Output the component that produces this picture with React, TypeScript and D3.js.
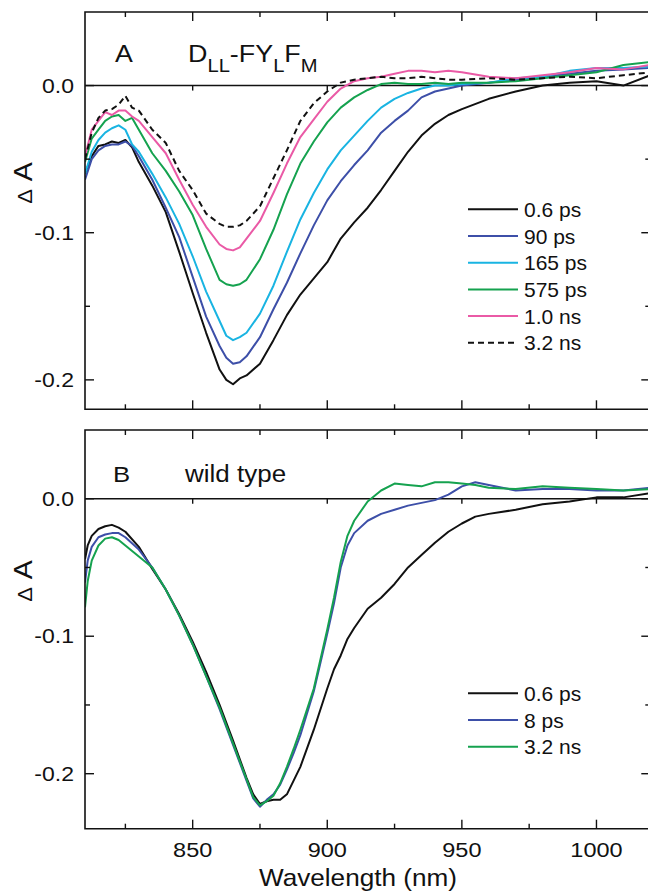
import React from "react";
import * as d3 from "d3";

// ---------------- data ----------------
const wavelengthA = [810, 812.5, 815, 817.5, 820, 822.5, 825, 827.5, 830, 835, 840, 845, 850, 855, 860, 862.5, 865, 867.5, 870, 875, 880, 885, 890, 895, 900, 905, 910, 915, 920, 925, 930, 935, 940, 945, 950, 960, 970, 980, 990, 1000, 1010, 1020];

const a_06ps = [-0.060, -0.048, -0.041, -0.040, -0.038, -0.039, -0.037, -0.042, -0.052, -0.068, -0.086, -0.113, -0.141, -0.168, -0.193, -0.200, -0.203, -0.199, -0.197, -0.189, -0.173, -0.156, -0.142, -0.131, -0.120, -0.104, -0.093, -0.083, -0.071, -0.058, -0.045, -0.034, -0.026, -0.020, -0.016, -0.009, -0.004, 0.000, 0.002, 0.003, 0.000, 0.007];
const a_90ps = [-0.064, -0.050, -0.044, -0.041, -0.040, -0.040, -0.038, -0.041, -0.048, -0.064, -0.083, -0.103, -0.130, -0.157, -0.177, -0.185, -0.189, -0.188, -0.184, -0.171, -0.152, -0.134, -0.114, -0.095, -0.078, -0.065, -0.054, -0.044, -0.032, -0.024, -0.017, -0.008, -0.004, -0.002, 0.000, 0.002, 0.004, 0.006, 0.008, 0.010, 0.011, 0.012];
const a_165ps = [-0.060, -0.045, -0.037, -0.032, -0.029, -0.027, -0.030, -0.040, -0.045, -0.060, -0.076, -0.094, -0.116, -0.140, -0.160, -0.170, -0.173, -0.171, -0.168, -0.155, -0.136, -0.113, -0.091, -0.073, -0.057, -0.044, -0.034, -0.024, -0.015, -0.009, -0.005, -0.002, 0.000, 0.000, 0.001, 0.002, 0.005, 0.006, 0.010, 0.012, 0.012, 0.013];
const a_575ps = [-0.052, -0.036, -0.030, -0.024, -0.021, -0.020, -0.024, -0.022, -0.030, -0.046, -0.058, -0.072, -0.088, -0.111, -0.132, -0.135, -0.136, -0.135, -0.132, -0.118, -0.098, -0.074, -0.053, -0.038, -0.025, -0.015, -0.008, -0.003, 0.001, 0.002, 0.001, 0.001, 0.002, 0.001, 0.002, 0.002, 0.003, 0.005, 0.007, 0.009, 0.014, 0.016];
const a_10ns = [-0.048, -0.030, -0.024, -0.018, -0.020, -0.017, -0.017, -0.021, -0.024, -0.035, -0.046, -0.064, -0.081, -0.096, -0.108, -0.111, -0.112, -0.110, -0.104, -0.092, -0.073, -0.053, -0.035, -0.023, -0.011, -0.002, 0.003, 0.005, 0.006, 0.008, 0.010, 0.010, 0.009, 0.010, 0.009, 0.006, 0.005, 0.007, 0.009, 0.012, 0.011, 0.014];
const a_32ns = [-0.050, -0.032, -0.022, -0.017, -0.016, -0.013, -0.007, -0.015, -0.017, -0.030, -0.039, -0.058, -0.071, -0.087, -0.094, -0.096, -0.096, -0.095, -0.092, -0.082, -0.063, -0.044, -0.024, -0.012, -0.004, 0.002, 0.004, 0.005, 0.006, 0.005, 0.005, 0.006, 0.005, 0.004, 0.004, 0.005, 0.004, 0.005, 0.006, 0.005, 0.007, 0.009];

const wavelengthB = [810, 811, 812.5, 815, 817.5, 820, 822.5, 825, 830, 835, 840, 845, 850, 855, 860, 865, 870, 872.5, 875, 877.5, 880, 882.5, 885, 887.5, 890, 895, 900, 902.5, 905, 907.5, 910, 915, 920, 925, 930, 935, 940, 945, 950, 955, 960, 970, 980, 990, 1000, 1010, 1020];

const b_06ps = [-0.044, -0.034, -0.027, -0.022, -0.020, -0.019, -0.021, -0.024, -0.035, -0.051, -0.066, -0.084, -0.104, -0.126, -0.150, -0.176, -0.203, -0.215, -0.222, -0.220, -0.219, -0.219, -0.215, -0.205, -0.195, -0.168, -0.138, -0.124, -0.114, -0.102, -0.094, -0.080, -0.072, -0.062, -0.050, -0.041, -0.032, -0.024, -0.018, -0.013, -0.011, -0.008, -0.004, -0.002, 0.001, 0.001, 0.004];
const b_8ps = [-0.061, -0.045, -0.035, -0.028, -0.026, -0.025, -0.025, -0.028, -0.037, -0.050, -0.066, -0.085, -0.106, -0.129, -0.153, -0.179, -0.205, -0.218, -0.224, -0.219, -0.215, -0.208, -0.197, -0.185, -0.172, -0.140, -0.098, -0.076, -0.050, -0.034, -0.025, -0.016, -0.011, -0.008, -0.005, -0.003, -0.001, 0.003, 0.009, 0.012, 0.010, 0.006, 0.007, 0.007, 0.006, 0.006, 0.008];
const b_32ns = [-0.079, -0.060, -0.045, -0.034, -0.029, -0.028, -0.030, -0.034, -0.042, -0.050, -0.066, -0.085, -0.106, -0.129, -0.152, -0.178, -0.204, -0.217, -0.223, -0.220, -0.216, -0.207, -0.195, -0.182, -0.168, -0.138, -0.095, -0.072, -0.046, -0.027, -0.016, -0.002, 0.006, 0.011, 0.010, 0.009, 0.012, 0.012, 0.011, 0.010, 0.008, 0.007, 0.009, 0.008, 0.007, 0.006, 0.007];

const labelsA = ["0.6 ps", "90 ps", "165 ps", "575 ps", "1.0 ns", "3.2 ns"];
const labelsB = ["0.6 ps", "8 ps", "3.2 ns"];
const xMajorTicks = [850, 900, 950, 1000];
const xMinorTicks = [825, 875, 925, 975];
const yMajorTicks = [0, -0.1, -0.2];
const yMinorTicks = [-0.05, -0.15];

// ---------------- styles ----------------
const BLACK = "#111111";
const BLUE = "#3d4fa8";
const CYAN = "#19b4e2";
const GREEN = "#15a24f";
const PINK = "#ea5aa6";
const FONT = "'Liberation Sans', Arial, Helvetica, sans-serif";

const seriesA = [
  { values: a_06ps, color: BLACK, dash: null },
  { values: a_90ps, color: BLUE, dash: null },
  { values: a_165ps, color: CYAN, dash: null },
  { values: a_575ps, color: GREEN, dash: null },
  { values: a_10ns, color: PINK, dash: null },
  { values: a_32ns, color: BLACK, dash: "6,4" },
];
const seriesB = [
  { values: b_06ps, color: BLACK, dash: null },
  { values: b_8ps, color: BLUE, dash: null },
  { values: b_32ns, color: GREEN, dash: null },
];

const X0 = 85;
const X1 = 650.3;
const xScale = d3.scaleLinear().domain([810, 1020]).range([X0, X1]);

type Series = { values: number[]; color: string; dash: string | null };

// text horizontally stretched like the original figure's lettering
function SText(props: {
  x: number;
  y: number;
  size: number;
  sx?: number;
  anchor?: string;
  dy?: string;
  children: React.ReactNode;
}) {
  const { x, y, size, sx = 1.14, anchor = "start", dy, children } = props;
  return (
    <text
      transform={`translate(${x},${y}) scale(${sx},1)`}
      x={0}
      y={0}
      dy={dy}
      textAnchor={anchor}
      fontSize={size}
      fontFamily={FONT}
      fill={BLACK}
    >
      {children}
    </text>
  );
}

function Panel(props: {
  id: string;
  top: number;
  bottom: number;
  yDomain: [number, number];
  wl: number[];
  series: Series[];
  labels: string[];
  legendY: number;
  title: React.ReactNode;
  yLabelY: number;
}) {
  const { id, top, bottom, yDomain, wl, series, labels, legendY, title, yLabelY } = props;
  const y = d3.scaleLinear().domain(yDomain).range([bottom, top]);
  const line = d3
    .line<number>()
    .x((_, i) => xScale(wl[i]))
    .y((d) => y(d))
    .curve(d3.curveLinear);
  const y0 = y(0);
  const MAJ = 9;
  const MIN = 5;
  return (
    <g>
      <defs>
        <clipPath id={"clip" + id}>
          <rect x={X0} y={top} width={X1 - X0} height={bottom - top} />
        </clipPath>
      </defs>
      {/* zero line */}
      <line x1={X0} x2={X1} y1={y0} y2={y0} stroke={BLACK} strokeWidth={1.4} />
      {xMajorTicks.map((t) => (
        <line key={"z" + t} x1={xScale(t)} x2={xScale(t)} y1={y0} y2={y0 + 5} stroke={BLACK} strokeWidth={1.4} />
      ))}
      {/* data */}
      <g clipPath={`url(#clip${id})`}>
        {series.map((s, i) => (
          <path
            key={i}
            d={line(s.values) || ""}
            fill="none"
            stroke={s.color}
            strokeWidth={2}
            strokeDasharray={s.dash || undefined}
            strokeLinejoin="round"
          />
        ))}
      </g>
      {/* frame */}
      <path d={`M${X1},${top}H${X0}V${bottom}H${X1}V${top}`} fill="none" stroke={BLACK} strokeWidth={1.6} />
      {/* x ticks bottom & top */}
      {xMajorTicks.map((t) => (
        <g key={"xm" + t}>
          <line x1={xScale(t)} x2={xScale(t)} y1={bottom} y2={bottom - MAJ} stroke={BLACK} strokeWidth={1.4} />
          <line x1={xScale(t)} x2={xScale(t)} y1={top} y2={top + MAJ} stroke={BLACK} strokeWidth={1.4} />
        </g>
      ))}
      {xMinorTicks.map((t) => (
        <g key={"xn" + t}>
          <line x1={xScale(t)} x2={xScale(t)} y1={bottom} y2={bottom - MIN} stroke={BLACK} strokeWidth={1.4} />
          <line x1={xScale(t)} x2={xScale(t)} y1={top} y2={top + MIN} stroke={BLACK} strokeWidth={1.4} />
        </g>
      ))}
      {/* y ticks left & right */}
      {yMajorTicks.map((t) => (
        <g key={"ym" + t}>
          <line x1={X0} x2={X0 + MAJ} y1={y(t)} y2={y(t)} stroke={BLACK} strokeWidth={1.4} />
          <line x1={X1} x2={X1 - MAJ} y1={y(t)} y2={y(t)} stroke={BLACK} strokeWidth={1.4} />
          <SText x={74} y={y(t)} dy="0.36em" anchor="end" size={20} sx={1.15}>
            {d3.format(".1f")(t).replace("−", "-")}
          </SText>
        </g>
      ))}
      {yMinorTicks.map((t) => (
        <g key={"yn" + t}>
          <line x1={X0} x2={X0 + MIN} y1={y(t)} y2={y(t)} stroke={BLACK} strokeWidth={1.4} />
          <line x1={X1} x2={X1 - MIN} y1={y(t)} y2={y(t)} stroke={BLACK} strokeWidth={1.4} />
        </g>
      ))}
      {/* y label */}
      <text
        transform={`translate(32,${yLabelY}) rotate(-90) scale(1.1,1)`}
        textAnchor="middle"
        fontFamily={FONT}
        fill={BLACK}
      >
        <tspan fontSize={20}>Δ</tspan>
        <tspan fontSize={26}> A</tspan>
      </text>
      {/* title */}
      {title}
      {/* legend */}
      {labels.map((lab, i) => {
        const ly = legendY + i * 26.7;
        const s = series[i];
        return (
          <g key={lab}>
            <line x1={468} x2={518} y1={ly} y2={ly} stroke={s.color} strokeWidth={2} strokeDasharray={s.dash || undefined} />
            <text x={524} y={ly} dy="0.36em" fontSize={21} fontFamily={FONT} fill={BLACK}>
              {lab}
            </text>
          </g>
        );
      })}
    </g>
  );
}

export default function App() {
  const titleA = (
    <g>
      <SText x={115} y={62} size={23} sx={1.16}>A</SText>
      <SText x={188} y={62} size={24} sx={1.12}>
        D<tspan fontSize={18} dy={10}>LL</tspan>
        <tspan dy={-10}>-FY</tspan>
        <tspan fontSize={18} dy={10}>L</tspan>
        <tspan dy={-10}>F</tspan>
        <tspan fontSize={18} dy={10}>M</tspan>
      </SText>
    </g>
  );
  const titleB = (
    <g>
      <SText x={113} y={482} size={23} sx={1.12}>B</SText>
      <SText x={185} y={482} size={23} sx={1.13}>wild type</SText>
    </g>
  );
  return (
    <svg
      width={648}
      height={894}
      style={{ position: "absolute", left: 0, top: 0, background: "#fff" }}
    >
      <rect x={0} y={0} width={648} height={894} fill="#fff" />
      <Panel
        id="A"
        top={12}
        bottom={409.3}
        yDomain={[-0.22, 0.05]}
        wl={wavelengthA}
        series={seriesA}
        labels={labelsA}
        legendY={209.3}
        title={titleA}
        yLabelY={183}
      />
      <Panel
        id="B"
        top={430}
        bottom={828.7}
        yDomain={[-0.24, 0.05]}
        wl={wavelengthB}
        series={seriesB}
        labels={labelsB}
        legendY={693.3}
        title={titleB}
        yLabelY={581}
      />
      {xMajorTicks.map((t) => (
        <SText key={t} x={xScale(t)} y={857} anchor="middle" size={21} sx={1.12}>
          {t}
        </SText>
      ))}
      <SText x={358} y={886} anchor="middle" size={24} sx={1.09}>
        Wavelength (nm)
      </SText>
    </svg>
  );
}
